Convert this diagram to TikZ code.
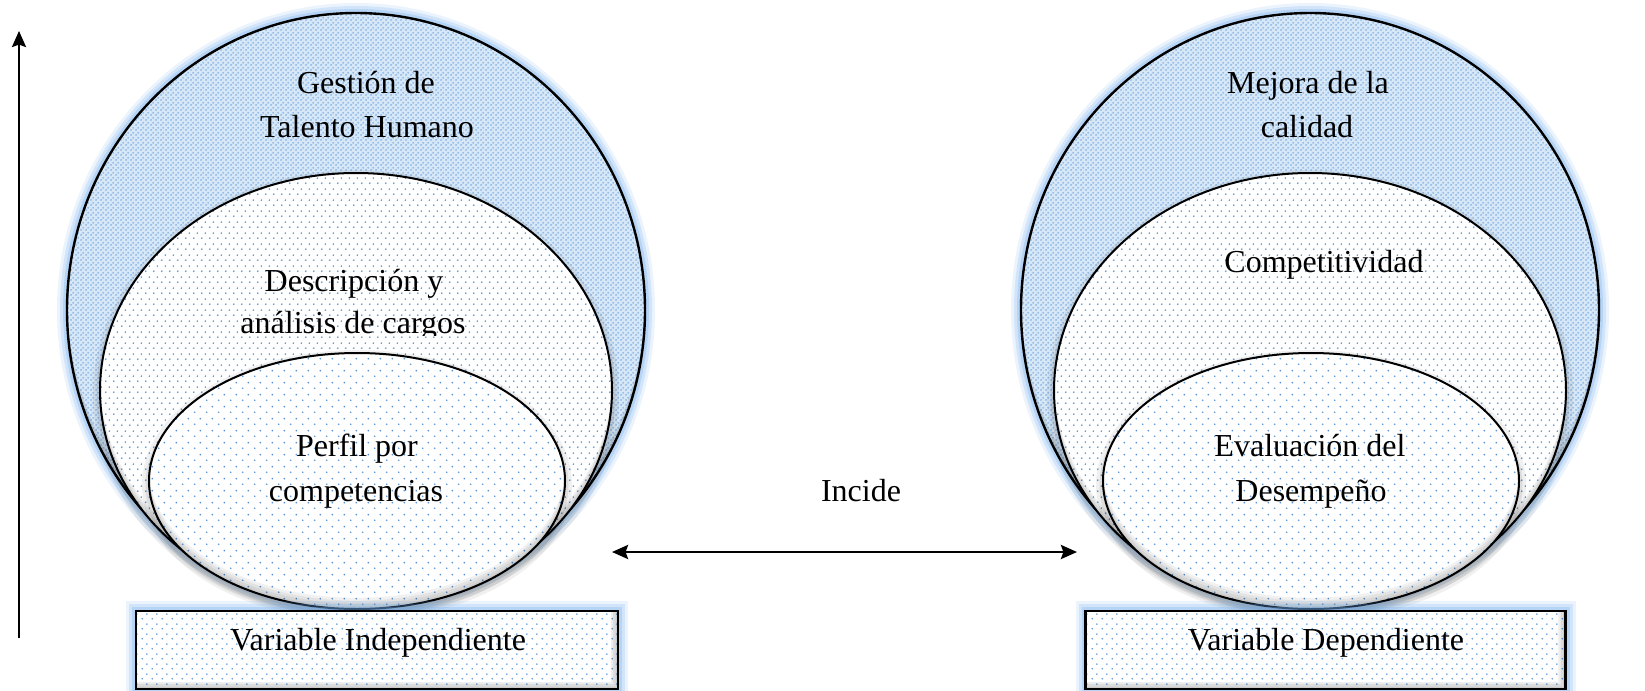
\documentclass[tikz,border=0pt]{standalone}
\usepackage{fontspec}
\setmainfont{Liberation Serif}
\usetikzlibrary{shapes.geometric,patterns.meta,arrows.meta}

\definecolor{glowblue}{RGB}{110,170,235}
\definecolor{ringbase}{RGB}{214,231,247}
\definecolor{ringdot}{RGB}{130,174,224}
\definecolor{dotblue}{RGB}{90,150,215}

% fine checker of blue spots for the outer rings
\tikzdeclarepattern{name=ringcross, type=uncolored,
  bottom left={(0pt,0pt)}, top right={(2.5pt,2.5pt)}, tile size={(2.5pt,2.5pt)},
  code={\fill (0.625pt,0.625pt) circle[radius=0.55pt];
        \fill (1.875pt,1.875pt) circle[radius=0.55pt];}}
% staggered blue dots for the inner shapes
\tikzdeclarepattern{name=middots, type=uncolored,
  bottom left={(0pt,0pt)}, top right={(4pt,5.5pt)}, tile size={(4pt,5.5pt)},
  code={\fill (1pt,1pt) circle[radius=0.5pt];
        \fill (3pt,3.75pt) circle[radius=0.5pt];}}
\tikzdeclarepattern{name=innerdots, type=uncolored,
  bottom left={(0pt,0pt)}, top right={(6pt,6pt)}, tile size={(6pt,6pt)},
  code={\fill (1.5pt,1.5pt) circle[radius=0.5pt];
        \fill (4.5pt,4.5pt) circle[radius=0.5pt];}}
\tikzdeclarepattern{name=boxdots, type=uncolored,
  bottom left={(0pt,0pt)}, top right={(5pt,5pt)}, tile size={(5pt,5pt)},
  code={\fill (1.25pt,1.25pt) circle[radius=0.5pt];
        \fill (3.75pt,3.75pt) circle[radius=0.5pt];}}

\tikzset{
  glow/.style={
    preaction={draw=glowblue, draw opacity=.14, line width=10pt},
    preaction={draw=glowblue, draw opacity=.20, line width=7pt},
    preaction={draw=glowblue, draw opacity=.28, line width=4pt}},
  castshadow/.style={
    preaction={draw=black, draw opacity=.06, line width=7pt, transform canvas={yshift=-2pt}},
    preaction={draw=black, draw opacity=.08, line width=3.5pt, transform canvas={yshift=-2pt}}},
  innershade/.style 2 args={path picture={
    \foreach \k in {1,2,3,4}
      \fill[black, fill opacity=.055, even odd rule]
        ([shift={(-5pt,-5pt)}]path picture bounding box.south west) rectangle
        ([shift={(5pt,5pt)}]path picture bounding box.north east)
        ([yshift=\k*1.4pt]path picture bounding box.center) ellipse [x radius=#1, y radius=#2];}},
  boxshade/.style={path picture={
    \foreach \k in {1,2,3}
      \fill[black, fill opacity=.07, even odd rule]
        ([shift={(-5pt,-5pt)}]path picture bounding box.south west) rectangle
        ([shift={(5pt,5pt)}]path picture bounding box.north east)
        ([shift={(-\k*1.2pt,\k*1.2pt)}]path picture bounding box.south west) rectangle
        ([shift={(-\k*1.2pt,\k*1.2pt)}]path picture bounding box.north east);}},
  ringnode/.style={ellipse, inner sep=0pt, outer sep=0pt,
    minimum width=289pt, minimum height=297pt, glow,
    preaction={fill=ringbase}, pattern=ringcross, pattern color=ringdot,
    draw=black, line width=1.2pt, innershade={144.5pt}{148.5pt}},
  midnode/.style={ellipse, inner sep=0pt, outer sep=0pt,
    minimum width=256pt, minimum height=217.5pt, castshadow,
    preaction={fill=white}, pattern=middots, pattern color=dotblue,
    draw=black, line width=1pt, innershade={128pt}{108.75pt}},
  corenode/.style={ellipse, inner sep=0pt, outer sep=0pt,
    minimum width=208pt, minimum height=128pt, castshadow,
    preaction={fill=white}, pattern=innerdots, pattern color=dotblue,
    draw=black, line width=1pt, innershade={104pt}{64pt}},
  varbox/.style={rectangle, inner sep=0pt, outer sep=0pt,
    minimum height=39pt, glow,
    preaction={fill=white}, pattern=boxdots, pattern color=dotblue,
    draw=black, line width=1.2pt, boxshade},
  lbl/.style={font=\fontsize{16}{20}\selectfont, inner sep=0pt, anchor=base},
  uparrow/.style={line width=1.2pt, -{Stealth[length=8pt, width=7pt, inset=1.2pt]}},
  twoway/.style={line width=1.4pt,
    {Stealth[length=8pt, width=7pt, inset=1.2pt]}-{Stealth[length=8pt, width=7pt, inset=1.2pt]}}
}

\begin{document}
\begin{tikzpicture}[x=0.5pt, y=-0.5pt]
\useasboundingbox (0,0) rectangle (1645,691);

% independent variable
\node[ringnode] (Lout) at (356,310) {};
\node[midnode]  (Lmid) at (356,390.5) {};
\node[corenode] (Lin)  at (357,481) {};
\node[varbox, minimum width=241pt] (Lbox) at (377,650) {};

% dependent variable
\node[ringnode] (Rout) at (1310,310) {};
\node[midnode]  (Rmid) at (1310,390.5) {};
\node[corenode] (Rin)  at (1311,481) {};
\node[varbox, minimum width=240pt] (Rbox) at (1325.5,650) {};

% texts
\node[lbl] (Lt1) at (366,93)  {Gestión de};
\node[lbl] (Lt2) at (367,137) {Talento Humano};
\node[lbl] (Lt3) at (354,291) {Descripción y};
\begin{scope}
  \clip (0,0) rectangle (1645,335);
  \node[lbl] (Lt4) at (353,333) {análisis de cargos};
\end{scope}
\node[lbl] (Lt5) at (357,456) {Perfil por};
\node[lbl] (Lt6) at (356,501) {competencias};
\node[lbl] (Lt7) at (378,650) {Variable Independiente};

\node[lbl] (Rt1) at (1308,93)  {Mejora de la};
\node[lbl] (Rt2) at (1307,137) {calidad};
\node[lbl] (Rt3) at (1324,272) {Competitividad};
\node[lbl] (Rt4) at (1310,456) {Evaluación del};
\node[lbl] (Rt5) at (1311,501) {Desempeño};
\node[lbl] (Rt6) at (1326,650) {Variable Dependiente};

\node[lbl] (inc) at (861,501) {Incide};

% connectors
\coordinate (vbot) at (19,638);
\coordinate (vtop) at (19,31);
\draw[uparrow] (vbot) -- (vtop);

\coordinate (hl) at (612,552);
\coordinate (hr) at (1077,552);
\draw[twoway] (hl) -- (hr);
\end{tikzpicture}
\end{document}
